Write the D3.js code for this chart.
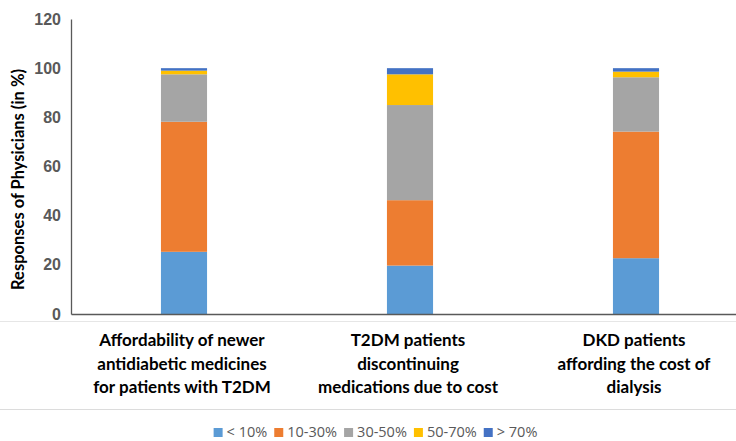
<!DOCTYPE html>
<html>
<head>
<meta charset="utf-8">
<script src="https://cdn.jsdelivr.net/npm/d3@7"></script>
<style>
  html, body { margin: 0; padding: 0; background: #fff; }
  svg { display: block; }
</style>
</head>
<body>
<svg id="chart" width="736" height="441"></svg>
<script>
// Survey questions shown along the x axis (one bar each)
const categories = [
  "Affordability of newer antidiabetic medicines for patients with T2DM",
  "T2DM patients discontinuing medications due to cost",
  "DKD patients affording the cost of dialysis"
];
// Wrapped label lines for each category
const categoryLines = [
  ["Affordability of newer", "antidiabetic medicines", "for patients with T2DM"],
  ["T2DM patients", "discontinuing", "medications due to cost"],
  ["DKD patients", "affording the cost of", "dialysis"]
];
// Response bands (stack order, bottom to top)
const seriesNames = ["< 10%", "10-30%", "30-50%", "50-70%", "> 70%"];
const seriesColors = ["#5b9bd5", "#ed7d31", "#a5a5a5", "#ffc000", "#4472c4"];
// Share of physicians (%) per band, one value per category
const lt10   = [25.3, 19.7, 22.7];
const s10_30 = [52.9, 26.6, 51.5];
const s30_50 = [19.3, 38.7, 22.1];
const s50_70 = [1.5, 12.5, 2.3];
const gt70   = [1.0, 2.5, 1.4];
const yTicks = [0, 20, 40, 60, 80, 100, 120];

const seriesValues = [lt10, s10_30, s30_50, s50_70, gt70];
const rows = categories.map((c, i) => {
  const r = { category: c };
  seriesNames.forEach((s, k) => { r[s] = seriesValues[k][i]; });
  return r;
});

const svg = d3.select("#chart");
const plot = { left: 71, right: 749, top: 19, bottom: 314 };

const x = d3.scaleBand()
  .domain(categories)
  .range([plot.left, plot.right])
  .paddingInner(0.796)
  .paddingOuter(0.398);

const y = d3.scaleLinear()
  .domain([0, 120])
  .range([plot.bottom, plot.top]);

// faint panel separators
svg.append("line")
  .attr("x1", 0).attr("x2", 736).attr("y1", 321.5).attr("y2", 321.5)
  .attr("stroke", "#e6e6e6").attr("stroke-width", 1);
svg.append("line")
  .attr("x1", 0).attr("x2", 736).attr("y1", 409.5).attr("y2", 409.5)
  .attr("stroke", "#dcdcdc").attr("stroke-width", 1);

// stacked bars
const stacked = d3.stack().keys(seriesNames)(rows);
svg.append("g")
  .selectAll("g")
  .data(stacked)
  .join("g")
  .attr("fill", (d, i) => seriesColors[i])
  .selectAll("rect")
  .data(d => d)
  .join("rect")
  .attr("x", d => x(d.data.category))
  .attr("width", x.bandwidth())
  .attr("y", d => y(d[1]))
  .attr("height", d => y(d[0]) - y(d[1]));

// y axis
const yAxis = svg.append("g")
  .attr("transform", `translate(${plot.left},0)`)
  .call(d3.axisLeft(y).tickValues(yTicks).tickSize(0).tickPadding(10));
yAxis.select(".domain").attr("stroke", "#595959").attr("stroke-width", 1.3);
yAxis.selectAll("text")
  .attr("fill", "#595959")
  .style("font-family", "'Liberation Sans', Arial, sans-serif")
  .style("font-weight", "bold")
  .style("font-size", "16px");

// x axis baseline
const xAxis = svg.append("g")
  .attr("transform", `translate(0,${plot.bottom})`)
  .call(d3.axisBottom(x).tickSize(0).tickFormat(""));
xAxis.select(".domain").attr("stroke", "#595959").attr("stroke-width", 1.3);

// category labels
const labelFont = "Lato, 'Liberation Sans', sans-serif";
categoryLines.forEach((lines, i) => {
  const cx = x(categories[i]) + x.bandwidth() / 2;
  const t = svg.append("text")
    .attr("text-anchor", "middle")
    .attr("fill", "#000")
    .style("font-family", labelFont)
    .style("font-weight", "bold")
    .style("font-size", "17px");
  lines.forEach((ln, j) => {
    t.append("tspan").attr("x", cx - 2).attr("y", 346 + j * 23.5).text(ln);
  });
});

// y axis title
svg.append("text")
  .attr("transform", `translate(24,${(plot.top + plot.bottom) / 2 + 13}) rotate(-90)`)
  .attr("text-anchor", "middle")
  .attr("fill", "#000")
  .style("font-family", labelFont)
  .style("font-weight", "bold")
  .style("font-size", "16.5px")
  .text("Responses of Physicians (in %)");

// legend
const legend = svg.append("g");
let lx = 0;
seriesNames.forEach((name, i) => {
  const item = legend.append("g").attr("transform", `translate(${lx},0)`);
  item.append("rect")
    .attr("x", 0).attr("y", -9).attr("width", 9).attr("height", 9)
    .attr("fill", seriesColors[i]);
  const t = item.append("text")
    .attr("x", 13).attr("y", 0)
    .attr("fill", "#595959")
    .style("font-family", "'Open Sans', sans-serif")
    .style("font-size", "14.5px")
    .text(name);
  lx += 13 + t.node().getComputedTextLength() + 7;
});
const legendWidth = lx - 7;
legend.attr("transform", `translate(${375.5 - legendWidth / 2},437)`);
</script>
</body>
</html>
